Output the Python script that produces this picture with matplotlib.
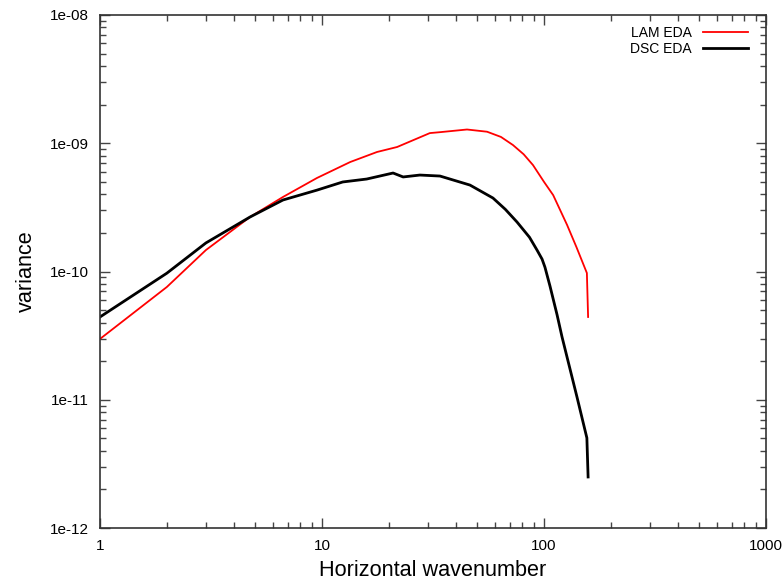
import matplotlib
matplotlib.use("Agg")
import matplotlib.pyplot as plt
from matplotlib.ticker import LogLocator, FixedLocator, FixedFormatter, NullFormatter

plt.rcParams['font.family'] = ['Liberation Sans', 'DejaVu Sans']

# LAM EDA (red)
lam_k = [1, 2, 3, 4.74, 6.67, 9.49, 13.4, 17.7, 21.8, 30.6, 34.0, 45.0, 55.4,
         64.0, 72.5, 81.0, 89.2, 100, 110, 127, 140, 156, 158]
lam_var = [2.98e-11, 7.57e-11, 1.47e-10, 2.66e-10, 3.81e-10, 5.36e-10, 7.14e-10,
           8.55e-10, 9.35e-10, 1.20e-9, 1.22e-9, 1.28e-9, 1.23e-9,
           1.12e-9, 9.68e-10, 8.2e-10, 6.76e-10, 5.0e-10, 3.94e-10, 2.31e-10,
           1.55e-10, 9.73e-11, 4.42e-11]

# DSC EDA (black)
dsc_k = [1, 2, 3, 4.74, 6.67, 9.49, 12.4, 15.9, 20.9, 23.2, 27.6, 34.0, 46.4,
         58.9, 67.0, 75.6, 86.0, 93.0, 98.0, 101, 106.4, 114.5, 120.5, 140.8,
         156, 158]
dsc_var = [4.42e-11, 9.7e-11, 1.67e-10, 2.66e-10, 3.61e-10, 4.31e-10, 4.99e-10,
           5.26e-10, 5.86e-10, 5.46e-10, 5.65e-10, 5.55e-10, 4.72e-10, 3.74e-10,
           3.05e-10, 2.43e-10, 1.85e-10, 1.47e-10, 1.25e-10, 1.08e-10, 7.7e-11,
           4.6e-11, 3.1e-11, 1.05e-11, 5.04e-12, 2.5e-12]

x_ticks = [1, 10, 100, 1000]
x_labels = ['1', '10', '100', '1000']
y_ticks = [1e-12, 1e-11, 1e-10, 1e-9, 1e-8]
y_labels = ['1e-12', '1e-11', '1e-10', '1e-09', '1e-08']

fig = plt.figure(figsize=(7.84, 5.81), dpi=100)
ax = fig.add_axes([100 / 784, 1 - 528 / 581, 666 / 784, 513 / 581])

ax.plot(lam_k, lam_var, color='#ff0000', lw=1.3, label='LAM EDA')
ax.plot(dsc_k, dsc_var, color='black', lw=2.0, label='DSC EDA')

ax.set_xscale('log')
ax.set_yscale('log')
ax.set_xlim(1, 1000)
ax.set_ylim(1e-12, 1e-8)

ax.xaxis.set_major_locator(FixedLocator(x_ticks))
ax.xaxis.set_major_formatter(FixedFormatter(x_labels))
ax.yaxis.set_major_locator(FixedLocator(y_ticks))
ax.yaxis.set_major_formatter(FixedFormatter(y_labels))
ax.xaxis.set_minor_locator(LogLocator(base=10, subs=range(2, 10)))
ax.yaxis.set_minor_locator(LogLocator(base=10, subs=range(2, 10)))
ax.xaxis.set_minor_formatter(NullFormatter())
ax.yaxis.set_minor_formatter(NullFormatter())

ax.tick_params(which='both', direction='in', top=True, right=True,
               color='#444444', labelsize=11, labelcolor='black')
ax.tick_params(which='major', length=7, width=1, pad=8)
ax.tick_params(which='minor', length=4, width=1)
for s in ax.spines.values():
    s.set_color('#333333')
    s.set_linewidth(1.2)

ax.set_xlabel('Horizontal wavenumber', fontsize=15.6, labelpad=5)
ax.set_ylabel('variance', fontsize=15.6, labelpad=9)

ax.legend(loc='upper right', frameon=False, markerfirst=False, fontsize=10,
          handlelength=3.2, handletextpad=0.8, labelspacing=0.15,
          borderaxespad=0.2, bbox_to_anchor=(0.985, 0.995))

fig.savefig('out.png', dpi=100)
